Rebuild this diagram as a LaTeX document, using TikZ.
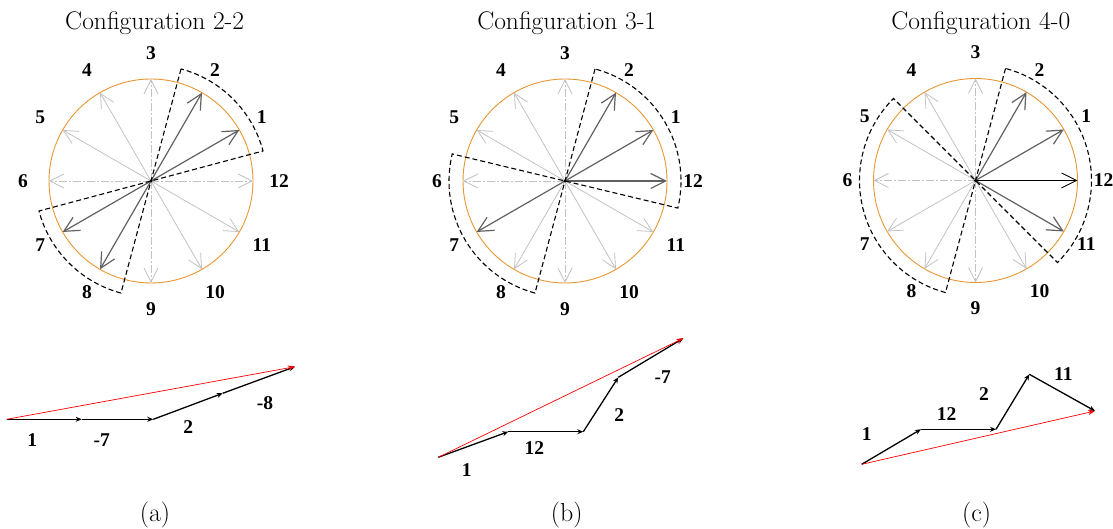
\documentclass[tikz,border=0pt]{standalone}
\usepackage{fontspec}
\setmainfont{Latin Modern Roman}
\newfontfamily\lblfont{Liberation Serif}
\usetikzlibrary{arrows.meta,calc}
\definecolor{ringc}{RGB}{232,150,50}
\tikzset{
 lbl/.style={font=\lblfont\bfseries\fontsize{19.5}{22}\selectfont, inner sep=0pt},
 ttl/.style={font=\fontsize{25.5}{28}\selectfont, inner sep=0pt, anchor=base},
 capt/.style={font=\fontsize{26}{30}\selectfont, inner sep=0pt},
 ringline/.style={draw=ringc, line width=0.9pt},
 faint/.style={draw=black!24, line width=0.8pt, -{Straight Barb[length=14pt,width=14pt]}},
 faintd/.style={faint, dash pattern=on 8pt off 2pt on 2pt off 2pt},
 boldray/.style={draw=black!62, line width=1.2pt, -{Straight Barb[length=15pt,width=15pt]}},
 blackray/.style={draw=black, line width=0.9pt, -{Straight Barb[length=15pt,width=15pt]}},
 sector/.style={draw=black, line width=1.1pt, dash pattern=on 5pt off 3pt},
 vec/.style={draw=black, line width=1.3pt, -{Stealth[length=6pt,width=5pt]}},
 res/.style={draw=red, line width=0.7pt, -{Stealth[length=7pt,width=5pt]}},
}
\newcommand\clockpanel[8]{%
 \coordinate (#1) at (#2,#3);
 \draw[ringline] (#1) circle[radius=102];
 \foreach \k in {#4} \draw[faint] (#1) -- ++(30*\k:102);
 \foreach \k in {#5} \draw[faintd] (#1) -- ++(30*\k:102);
 \foreach \k in {#6} \draw[boldray] (#1) -- ++(30*\k:102);
 \foreach \k in {1,...,12} \node[lbl] (#1-l\k) at ($(#1)+(30*\k:128)$) {\k};
 \draw[sector] ($(#1)+(#8:116)$) -- ($(#1)+(#8+180:116)$)
   arc[start angle=#8+180, end angle=#7+180, radius=116]
   -- ($(#1)+(#7:116)$)
   arc[start angle=#7, end angle=#8, radius=116] -- cycle;
 \fill (#1) circle[radius=1.6];
}
\begin{document}
\begin{tikzpicture}[x=1pt,y=1pt]
\useasboundingbox (0,0) rectangle (1113,529);

% titles
\node[ttl] (t1) at (154.7,499.5) {Configuration 2-2};
\node[ttl] (t2) at (566.7,499.5) {Configuration 3-1};
\node[ttl] (t3) at (980.8,499.5) {Configuration 4-0};

% clocks
\clockpanel{c1}{151}{348}{4,5,10,11}{3,6,9,12}{1,2,7,8}{15}{75}
\clockpanel{c2}{565}{348}{4,5,10,11,8}{3,6,9}{1,2,12,7}{-13.5}{75}
\clockpanel{c3}{975.5}{348.5}{4,5,7,8,10}{3,6,9}{1,2,11}{-45}{75}
\draw[blackray] (c3) -- ++(0:102);

% (a)
\coordinate (a0) at (6.7,109.7);
\coordinate (a1) at (81.7,109.7);
\coordinate (a2) at (153.3,109.7);
\coordinate (a3) at (222.7,135.7);
\coordinate (a4) at (295,162.3);
\draw[vec] (a0) -- (a1);
\draw[vec] (a1) -- (a2);
\draw[vec] (a2) -- (a3);
\draw[vec] (a3) -- (a4);
\draw[res] (a0) -- (a4);
\node[lbl] (la1) at (32.3,89) {1};
\node[lbl] (la2) at (101.7,89) {-7};
\node[lbl] (la3) at (188.3,101.7) {2};
\node[lbl] (la4) at (265,125.7) {-8};

% (b)
\coordinate (b0) at (438.3,71.7);
\coordinate (b1) at (508.3,97.3);
\coordinate (b2) at (583.3,97.3);
\coordinate (b3) at (618.3,151.7);
\coordinate (b4) at (683.3,190.7);
\draw[vec] (b0) -- (b1);
\draw[vec] (b1) -- (b2);
\draw[vec] (b2) -- (b3);
\draw[vec] (b3) -- (b4);
\draw[res] (b0) -- (b4);
\node[lbl] (lb1) at (466.7,59) {1};
\node[lbl] (lb2) at (534.3,80.7) {12};
\node[lbl] (lb3) at (619.3,114) {2};
\node[lbl] (lb4) at (662.7,152.3) {-7};

% (c)
\coordinate (r0) at (861.7,64.7);
\coordinate (r1) at (921,99.7);
\coordinate (r2) at (996,99.7);
\coordinate (r3) at (1029.3,154.7);
\coordinate (r4) at (1095,118);
\draw[vec] (r0) -- (r1);
\draw[vec] (r1) -- (r2);
\draw[vec] (r2) -- (r3);
\draw[vec] (r3) -- (r4);
\draw[res] (r0) -- (r4);
\node[lbl] (lc1) at (866.7,94.7) {1};
\node[lbl] (lc2) at (946.7,115) {12};
\node[lbl] (lc3) at (984,134.7) {2};
\node[lbl] (lc4) at (1063.3,154.7) {11};

% captions
\node[capt] (ca) at (155,14) {(a)};
\node[capt] (cb) at (566.7,14) {(b)};
\node[capt] (cc) at (976.7,14) {(c)};
\end{tikzpicture}
\end{document}
